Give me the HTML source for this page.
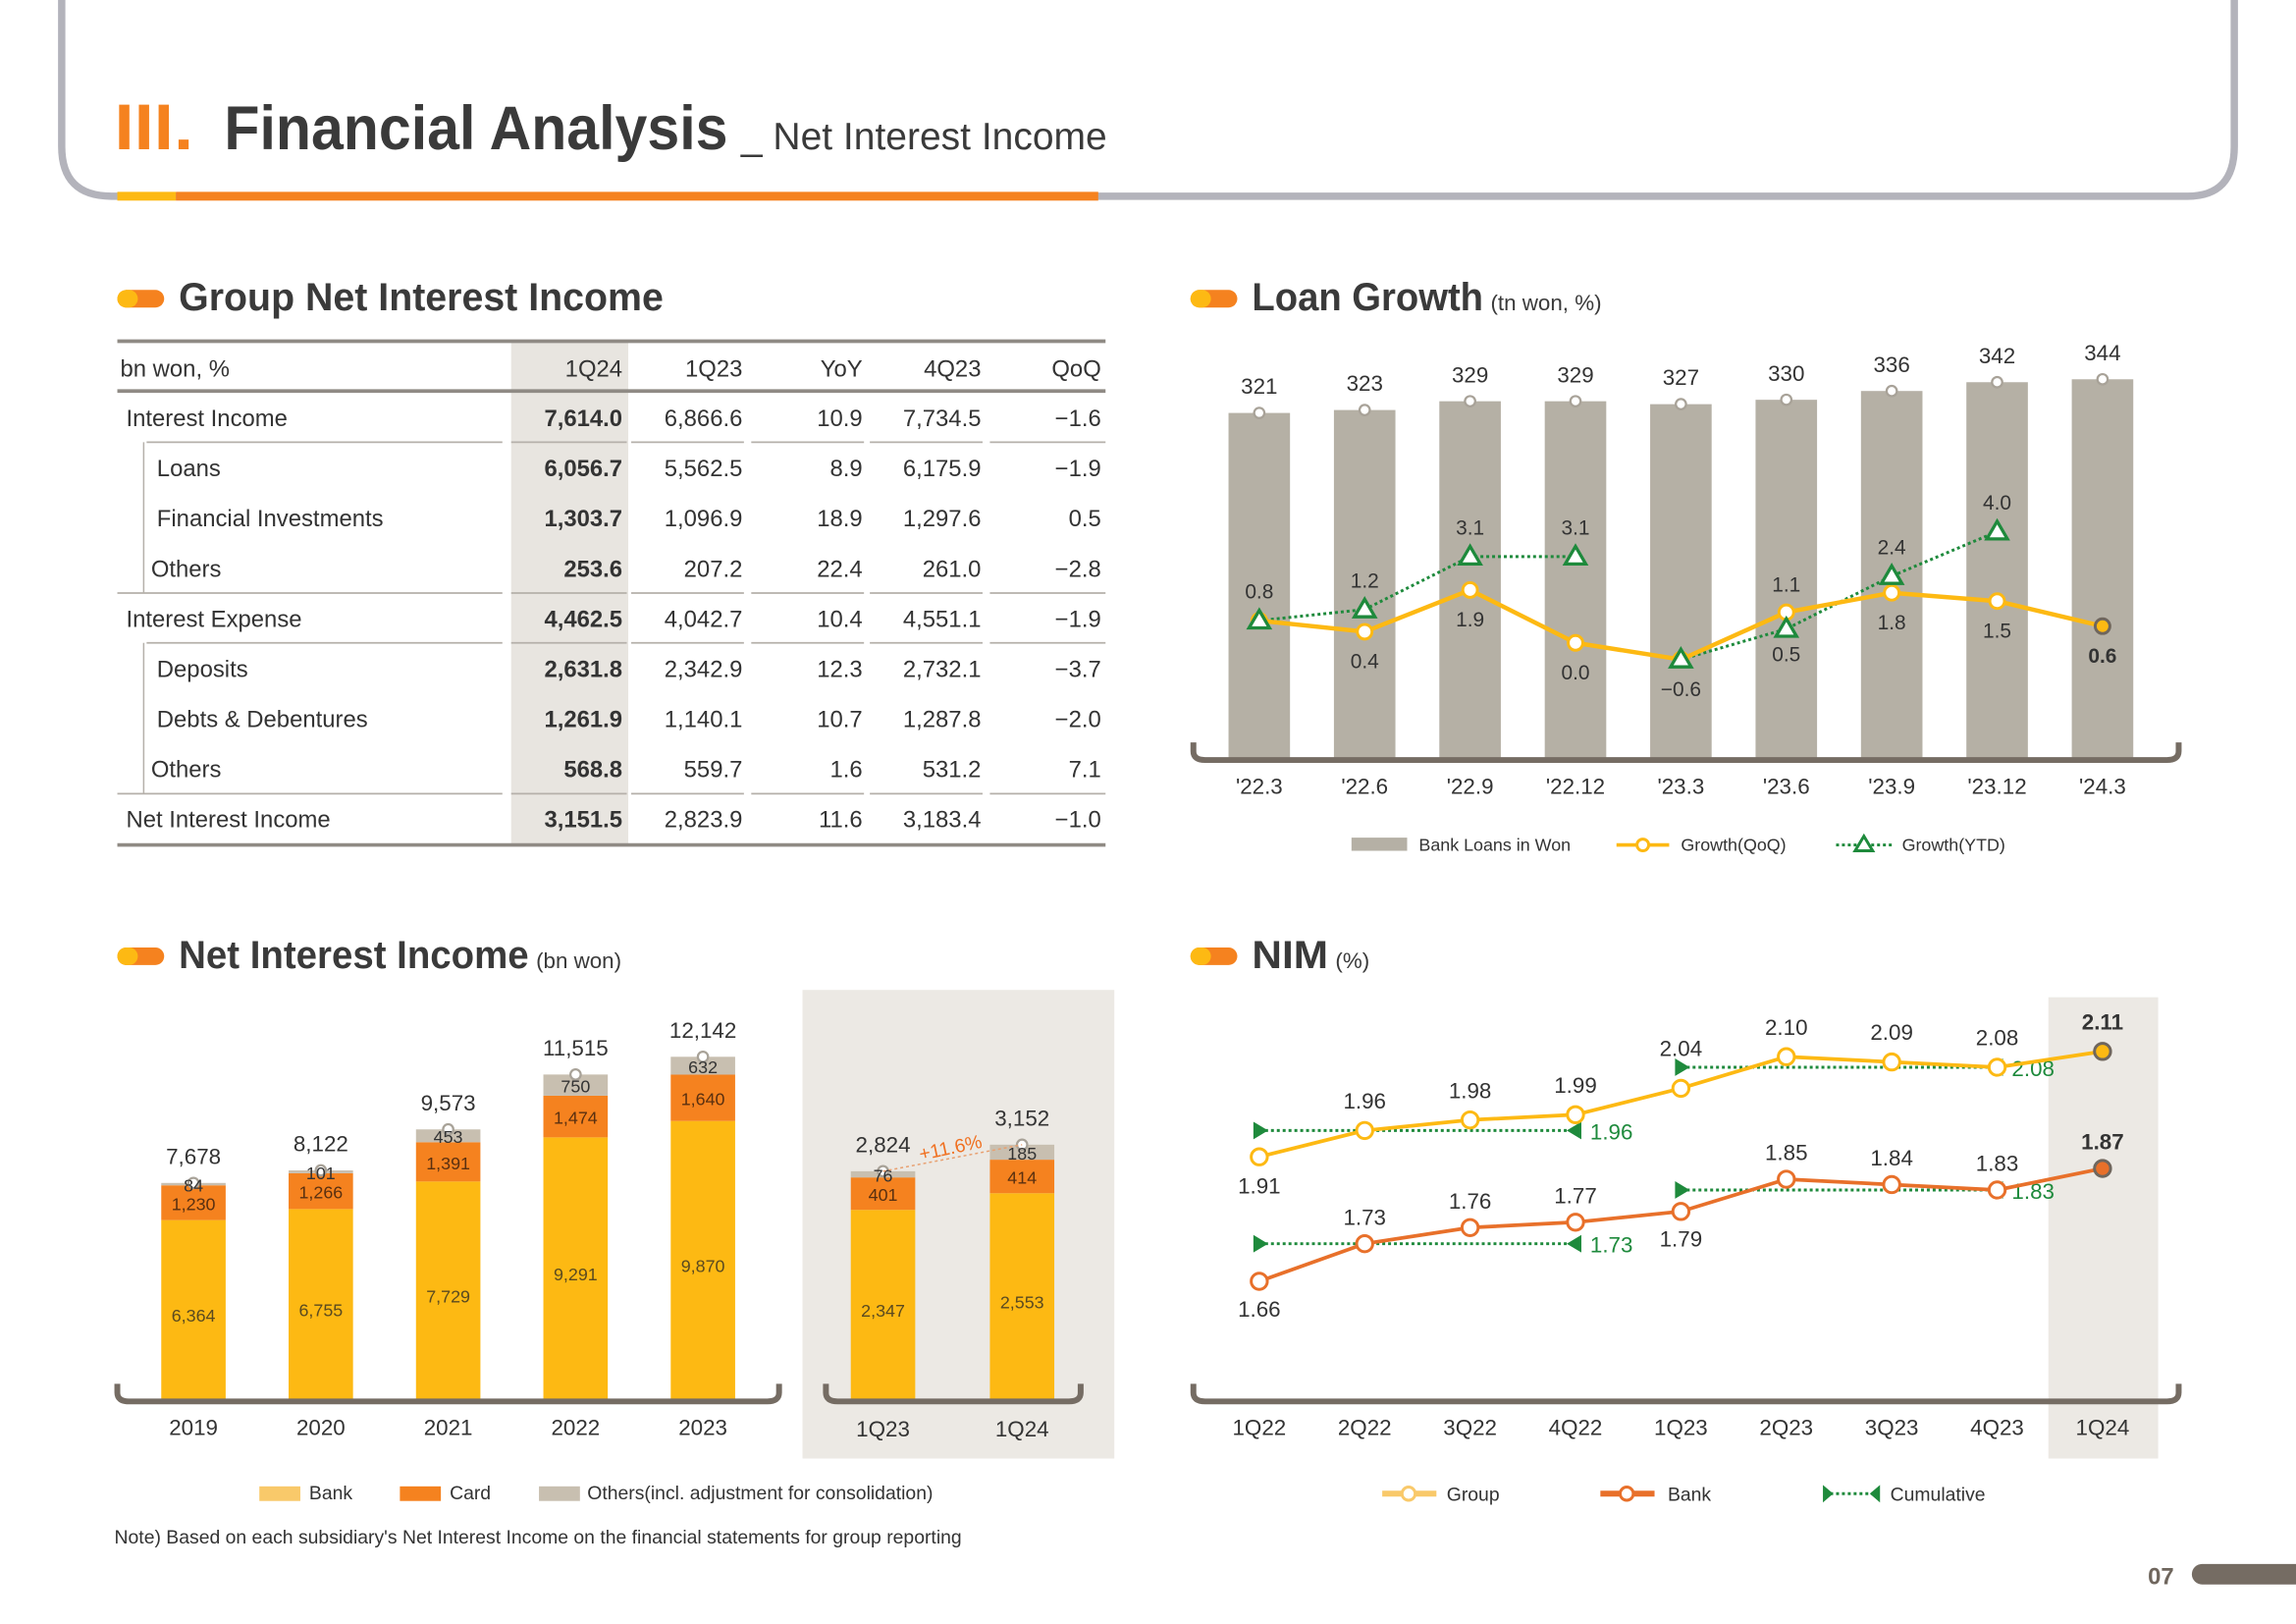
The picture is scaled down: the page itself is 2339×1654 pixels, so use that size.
<!DOCTYPE html>
<html><head><meta charset="utf-8"><style>
html,body{margin:0;padding:0;background:#fff;}
svg{display:block;font-family:"Liberation Sans","DejaVu Sans",sans-serif;}
</style></head><body>
<svg id="pg" width="2339" height="1654" viewBox="0 0 1568 1109" xmlns="http://www.w3.org/2000/svg">
<g id="hdr">
<path d="M42,0 V100 Q42,134 76,134 H1494 Q1526,134 1526,100 V0" fill="none" stroke="#b3b3bb" stroke-width="5"/>
<rect x="80" y="131" width="40" height="6" fill="#fdb913"/>
<rect x="120" y="131" width="630" height="6" fill="#f5821f"/>
<text x="78" y="102" font-size="44" fill="#f5821f" font-weight="bold" textLength="54" lengthAdjust="spacingAndGlyphs">III.</text>
<text x="153" y="102" font-size="42" font-weight="bold" fill="#3a3a3a" textLength="344" lengthAdjust="spacingAndGlyphs">Financial Analysis</text>
<text x="506" y="102" font-size="26" fill="#3a3a3a" textLength="250" lengthAdjust="spacingAndGlyphs">_ Net Interest Income</text>
</g>
<g id="root"></g>
<text x="1467" y="1082" font-size="16" font-weight="bold" fill="#6f665d">07</text>
<rect x="1497" y="1068" width="90" height="14" rx="7" fill="#756c63"/>
</svg>
<script>
// ---- data ----
const tblCols = ["bn won, %","1Q24","1Q23","YoY","4Q23","QoQ"];
const tblLabels = ["Interest Income","Loans","Financial Investments","Others","Interest Expense","Deposits","Debts & Debentures","Others","Net Interest Income"];
const tbl1Q24 = ["7,614.0","6,056.7","1,303.7","253.6","4,462.5","2,631.8","1,261.9","568.8","3,151.5"];
const tbl1Q23 = ["6,866.6","5,562.5","1,096.9","207.2","4,042.7","2,342.9","1,140.1","559.7","2,823.9"];
const tblYoY = ["10.9","8.9","18.9","22.4","10.4","12.3","10.7","1.6","11.6"];
const tbl4Q23 = ["7,734.5","6,175.9","1,297.6","261.0","4,551.1","2,732.1","1,287.8","531.2","3,183.4"];
const tblQoQ = ["-1.6","-1.9","0.5","-2.8","-1.9","-3.7","-2.0","7.1","-1.0"];

const loanCats = ["'22.3","'22.6","'22.9","'22.12","'23.3","'23.6","'23.9","'23.12","'24.3"];
const loanVals = [321,323,329,329,327,330,336,342,344];
const qoqVals = [0.8,0.4,1.9,0.0,-0.6,1.1,1.8,1.5,0.6];
const ytdVals = [0.8,1.2,3.1,3.1,-0.6,0.5,2.4,4.0];

const niiYears = ["2019","2020","2021","2022","2023"];
const niiBank = [6364,6755,7729,9291,9870];
const niiCard = [1230,1266,1391,1474,1640];
const niiOther = [84,101,453,750,632];
const niiTotal = ["7,678","8,122","9,573","11,515","12,142"];
const qCats = ["1Q23","1Q24"];
const qBank = [2347,2553];
const qCard = [401,414];
const qOther = [76,185];
const qTotal = ["2,824","3,152"];

const nimCats = ["1Q22","2Q22","3Q22","4Q22","1Q23","2Q23","3Q23","4Q23","1Q24"];
const nimGroup = [1.91,1.96,1.98,1.99,2.04,2.10,2.09,2.08,2.11];
const nimBank = [1.66,1.73,1.76,1.77,1.79,1.85,1.84,1.83,1.87];
const cumGroup = [1.96,2.08];
const cumBank = [1.73,1.83];

// ---- helpers ----
const NS="http://www.w3.org/2000/svg";
const root=document.getElementById('root');
function mk(tag,attrs,parent,txt){const e=document.createElementNS(NS,tag);for(const k in attrs)e.setAttribute(k,attrs[k]);if(txt!==undefined)e.textContent=txt;(parent||root).appendChild(e);return e;}
function grp(name){const g=mk('g',{});


return g;}
function T(p,x,y,s,txt,name,o){o=o||{};const e=mk('text',Object.assign({x:x,y:y,'font-size':s,fill:'#333'},o),p,txt);


return e;}
function R(p,x,y,w,h,f,name){const e=mk('rect',{x:x,y:y,width:w,height:h,fill:f},p);


return e;}
function L(p,x1,y1,x2,y2,st,sw,name,o){const e=mk('line',Object.assign({x1:x1,y1:y1,x2:x2,y2:y2,stroke:st,'stroke-width':sw},o||{}),p);


return e;}
function C(p,cx,cy,r,f,st,sw,name){const e=mk('circle',{cx:cx,cy:cy,r:r,fill:f,stroke:st,'stroke-width':sw},p);


return e;}
function P(p,d,o,name){const e=mk('path',Object.assign({d:d},o),p);


return e;}
function sectionTitle(x,y,t,sub,name,len){const g=grp(name);
R(g,x,y-15,32,12,'#f5821f','title-pill').setAttribute('rx',6);
R(g,x,y-15,14,12,'#fdb913','title-pill-dot').setAttribute('rx',6);
const e=T(g,x+42,y-1,27,'','section-title',{fill:'#3a3a3a'});
const m=mk('tspan',{'font-weight':'bold',textLength:len,lengthAdjust:'spacingAndGlyphs'},e,t);
if(sub){mk('tspan',{'font-size':15,dx:5},e,sub);}
}
function bracket(p,x1,x2,y,name){P(p,`M${x1},${y-12} V${y-6} Q${x1},${y} ${x1+8},${y} H${x2-8} Q${x2},${y} ${x2},${y-6} V${y-12}`,{fill:'none',stroke:'#756c63','stroke-width':4},name);}

// ---- Table ----
sectionTitle(80,213,"Group Net Interest Income",null,'table-title',331);
(function(){
const g=grp('nii-table');
R(g,349,233,80,344,'#e8e5e0','highlight-column');
const colR=[0,425,507,589,670,752];
L(g,80,233,755,233,'#8f8a84',2.5,'table-top-rule');
L(g,80,267,755,267,'#8f8a84',2.5,'table-header-rule');
tblCols.forEach((c,i)=>{T(g,i==0?82:colR[i],257,16,c,'column-header',i==0?{}:{'text-anchor':'end'});});
const rowY=i=>285+i*34.25;
const mainRows=[0,4,8];
tblLabels.forEach((lb,i)=>{
 const y=rowY(i)+6;
 const isMain=mainRows.includes(i);
 const indent=isMain?86:(lb=="Others"?103:107);
 T(g,indent,y,16,lb,'row-label');
 const vals=[tbl1Q24[i],tbl1Q23[i],tblYoY[i],tbl4Q23[i],tblQoQ[i]];
 vals.forEach((v,j)=>T(g,colR[j+1],y,16,v.replace('-','\u2212'),'cell-value',{'text-anchor':'end','font-weight':j==0?'bold':'normal'}));
});
[[0,302],[3,405],[4,439],[7,542]].forEach(([i,y])=>{
 [[80,343],[349,428],[431,508],[513,590],[594,671],[676,755]].forEach(s=>L(g,i==0||i==4?(s[0]==80?100:s[0]):s[0],y,s[1],y,'#b5b0aa',1.2,'row-separator'));
});
L(g,98,302,98,405,'#b5b0aa',1,'indent-rule');
L(g,98,439,98,542,'#b5b0aa',1,'indent-rule');
L(g,80,577,755,577,'#8f8a84',2.5,'table-bottom-rule');
})();

// ---- Loan growth ----
sectionTitle(813,213,"Loan Growth","(tn won, %)",'loan-growth-title',158);
(function(){
const g=grp('loan-growth-chart');
const x=i=>860+i*72;
const yb=v=>603-v;
const yp=v=>439-19*v;
loanVals.forEach((v,i)=>{
 R(g,x(i)-21,yb(v),42,518-yb(v),'#b5b0a5','loan-bar');
 C(g,x(i),yb(v),3.5,'#fff','#a8a298',1.5,'bar-top-marker');
 T(g,x(i),yb(v)-13,15,v,'bar-value',{'text-anchor':'middle'});
 T(g,x(i),542,15,loanCats[i],'x-tick-label',{'text-anchor':'middle'});
});
bracket(g,815,1488,519,'x-axis');
const segs=[[0,3],[4,7]];
segs.forEach(([a,b])=>{let d='';for(let i=a;i<=b;i++)d+=(i==a?'M':'L')+x(i)+','+yp(ytdVals[i]);
 P(g,d,{fill:'none',stroke:'#1e8a3c','stroke-width':2,'stroke-dasharray':'2,2'},'ytd-line');});
let d='';qoqVals.forEach((v,i)=>d+=(i?'L':'M')+x(i)+','+yp(v));
P(g,d,{fill:'none',stroke:'#fdb913','stroke-width':3},'qoq-line');
qoqVals.forEach((v,i)=>{
 const last=i==qoqVals.length-1;
 C(g,x(i),yp(v),5,last?'#fdb913':'#fff',last?'#6f665d':'#fdb913',2,'qoq-point');
 const below=[1,2,3,6,7,8].includes(i);
 if(i==0) T(g,x(i),yp(v)-15,14,v.toFixed(1),'qoq-label',{'text-anchor':'middle'});
 else if(i!=4) T(g,x(i),yp(v)+(below?25:-14),14,v.toFixed(1),'qoq-label',{'text-anchor':'middle','font-weight':last?'bold':'normal'});
});
ytdVals.forEach((v,i)=>{
 const cx=x(i),cy=yp(v);
 P(g,`M${cx},${cy-7} L${cx+7},${cy+5} L${cx-7},${cy+5}Z`,{fill:'#fff',stroke:'#1e8a3c','stroke-width':2.2},'ytd-point');
 if(i==4) T(g,cx,cy+25,14,'\u22120.6','ytd-label',{'text-anchor':'middle'});
 else if(i==5) T(g,cx,cy+22,14,v.toFixed(1),'ytd-label',{'text-anchor':'middle'});
 else if(i>0) T(g,cx,cy-15,14,v.toFixed(1),'ytd-label',{'text-anchor':'middle'});
});
const lg=grp('loan-legend');g.appendChild(lg);
R(lg,923,572,38,9,'#b5b0a5','legend-swatch-loans');
T(lg,969,581,12,'Bank Loans in Won','legend-label');
L(lg,1104,577,1140,577,'#fdb913',2.5,'legend-swatch-qoq');C(lg,1122,577,4,'#fff','#fdb913',2,'legend-marker-qoq');
T(lg,1148,581,12,'Growth(QoQ)','legend-label');
L(lg,1254,577,1292,577,'#1e8a3c',2,'legend-swatch-ytd',{'stroke-dasharray':'2,2'});
P(lg,'M1273,571 L1279,581 L1267,581Z',{fill:'#fff',stroke:'#1e8a3c','stroke-width':2},'legend-marker-ytd');
T(lg,1299,581,12,'Growth(YTD)','legend-label');
})();

// ---- NII chart ----
sectionTitle(80,662,"Net Interest Income","(bn won)",'nii-title',239);
(function(){
const g=grp('nii-chart');
R(g,548,676,213,320,'#ece9e4','quarter-panel-bg');
const base=956;
const x=i=>132+i*87;
const h=v=>v*0.0193;
niiYears.forEach((yr,i)=>{
 const hb=h(niiBank[i]),hc=h(niiCard[i]),ho=h(niiOther[i]);
 R(g,x(i)-22,base-hb,44,hb,'#fdb913','bar-bank');
 R(g,x(i)-22,base-hb-hc,44,hc,'#f5821f','bar-card');
 R(g,x(i)-22,base-hb-hc-ho,44,ho,'#c8bfb0','bar-others');
 const top=base-hb-hc-ho;
 C(g,x(i),top,3.5,'#fff','#a8a298',1.5,'bar-top-marker');
 T(g,x(i),top-13,15,niiTotal[i],'total-label',{'text-anchor':'middle'});
 T(g,x(i),base-hb/2+8,12,niiBank[i].toLocaleString('en-US'),'bank-value',{'text-anchor':'middle',fill:'#5a4a20'});
 T(g,x(i),base-hb-hc/2+5,12,niiCard[i].toLocaleString('en-US'),'card-value',{'text-anchor':'middle',fill:'#5a3010'});
 T(g,x(i),base-hb-hc-ho/2+5,12,niiOther[i],'others-value',{'text-anchor':'middle',fill:'#333'});
 T(g,x(i),980,15,yr,'x-tick-label',{'text-anchor':'middle'});
});
bracket(g,80,532,957,'x-axis-annual');
const qx=i=>603+i*95;
const qh=v=>v*0.0553;
const tops=[];
qCats.forEach((c,i)=>{
 const hb=qh(qBank[i]),hc=qh(qCard[i]),ho=qh(qOther[i]);
 R(g,qx(i)-22,base-hb,44,hb,'#fdb913','bar-bank');
 R(g,qx(i)-22,base-hb-hc,44,hc,'#f5821f','bar-card');
 R(g,qx(i)-22,base-hb-hc-ho,44,ho,'#c8bfb0','bar-others');
 const top=base-hb-hc-ho;tops.push(top);
 C(g,qx(i),top,3.5,'#fff','#a8a298',1.5,'bar-top-marker');
 T(g,qx(i),top-13,15,qTotal[i],'total-label',{'text-anchor':'middle'});
 T(g,qx(i),base-hb/2+8,12,qBank[i].toLocaleString('en-US'),'bank-value',{'text-anchor':'middle',fill:'#5a4a20'});
 T(g,qx(i),base-hb-hc/2+5,12,qCard[i],'card-value',{'text-anchor':'middle',fill:'#5a3010'});
 T(g,qx(i),base-hb-hc-ho/2+5,12,qOther[i],'others-value',{'text-anchor':'middle',fill:'#333'});
 T(g,qx(i),981,15,c,'x-tick-label',{'text-anchor':'middle'});
});
L(g,qx(0),tops[0],qx(1),tops[1],'#e8a070',1,'growth-connector',{'stroke-dasharray':'2,2'});
T(g,650,788,13,'+11.6%','yoy-growth-label',{'text-anchor':'middle',fill:'#f07020',transform:'rotate(-12 650 788)'});
bracket(g,564,738,957,'x-axis-quarterly');
const lg=grp('nii-legend');g.appendChild(lg);
R(lg,177,1015,28,10,'#f9c96a','legend-swatch-bank');T(lg,211,1024,13,'Bank','legend-label');
R(lg,273,1015,28,10,'#f5821f','legend-swatch-card');T(lg,307,1024,13,'Card','legend-label');
R(lg,368,1015,28,10,'#c8bfb0','legend-swatch-others');T(lg,401,1024,13,'Others(incl. adjustment for consolidation)','legend-label');
T(g,78,1054,13,"Note) Based on each subsidiary's Net Interest Income on the financial statements for group reporting",'footnote');
})();

// ---- NIM ----
sectionTitle(813,662,"NIM","(%)",'nim-title',52);
(function(){
const g=grp('nim-chart');
R(g,1399,681,75,315,'#ece9e4','latest-quarter-bg');
const x=i=>860+i*72;
const yg=v=>790-(v-1.91)*360;
const yk=v=>875-(v-1.66)*367;
function cum(v,yf,a,b,name){const y=yf(v);
 L(g,x(a),y,x(b),y,'#1e8a3c',2,name,{'stroke-dasharray':'2,2'});
 P(g,`M${x(a)-4},${y-6} L${x(a)+6},${y} L${x(a)-4},${y+6}Z`,{fill:'#1e8a3c'},name+'-start');
 P(g,`M${x(b)+4},${y-6} L${x(b)-6},${y} L${x(b)+4},${y+6}Z`,{fill:'#1e8a3c'},name+'-end');
 T(g,x(b)+10,y+6,15,v.toFixed(2),name+'-label',{fill:'#1e8a3c'});
}
cum(cumGroup[0],yg,0,3,'cumulative-group-2022');
cum(cumGroup[1],yg,4,7,'cumulative-group-2023');
cum(cumBank[0],yk,0,3,'cumulative-bank-2022');
cum(cumBank[1],yk,4,7,'cumulative-bank-2023');
function series(vals,yf,col,name,mfill){let d='';vals.forEach((v,i)=>d+=(i?'L':'M')+x(i)+','+yf(v));
 P(g,d,{fill:'none',stroke:col,'stroke-width':2.5},name+'-line');
 vals.forEach((v,i)=>{const last=i==vals.length-1;C(g,x(i),yf(v),5.5,last?mfill:'#fff',last?'#6f665d':col,2,name+'-point');});
}
series(nimGroup,yg,'#fdb913','group','#fdb913');
series(nimBank,yk,'#e8702a','bank','#e8702a');
nimGroup.forEach((v,i)=>{const last=i==8;
 T(g,x(i),i==0?yg(v)+25:(i==4?yg(v)-22:yg(v)-15),15,v.toFixed(2),'group-label',{'text-anchor':'middle','font-weight':last?'bold':'normal'});});
nimBank.forEach((v,i)=>{const last=i==8;
 const below=i==0||i==4;
 T(g,x(i),below?yk(v)+24:yk(v)-13,15,v.toFixed(2),'bank-label',{'text-anchor':'middle','font-weight':last?'bold':'normal'});});
nimCats.forEach((c,i)=>T(g,x(i),980,15,c,'x-tick-label',{'text-anchor':'middle'}));
bracket(g,815,1488,957,'x-axis');
const lg=grp('nim-legend');g.appendChild(lg);
L(lg,944,1020,981,1020,'#f9c96a',4,'legend-swatch-group');C(lg,962,1020,4.5,'#fff','#f9c96a',2,'legend-marker-group');T(lg,988,1025,13,'Group','legend-label');
L(lg,1093,1020,1130,1020,'#e8702a',4,'legend-swatch-bank');C(lg,1111,1020,4.5,'#fff','#e8702a',2,'legend-marker-bank');T(lg,1139,1025,13,'Bank','legend-label');
L(lg,1246,1020,1283,1020,'#1e8a3c',2,'legend-swatch-cumulative',{'stroke-dasharray':'2,2'});
P(lg,'M1245,1014 L1252,1020 L1245,1026Z',{fill:'#1e8a3c'},'legend-marker-start');
P(lg,'M1284,1014 L1277,1020 L1284,1026Z',{fill:'#1e8a3c'},'legend-marker-end');
T(lg,1291,1025,13,'Cumulative','legend-label');
})();
</script>
</body></html>
